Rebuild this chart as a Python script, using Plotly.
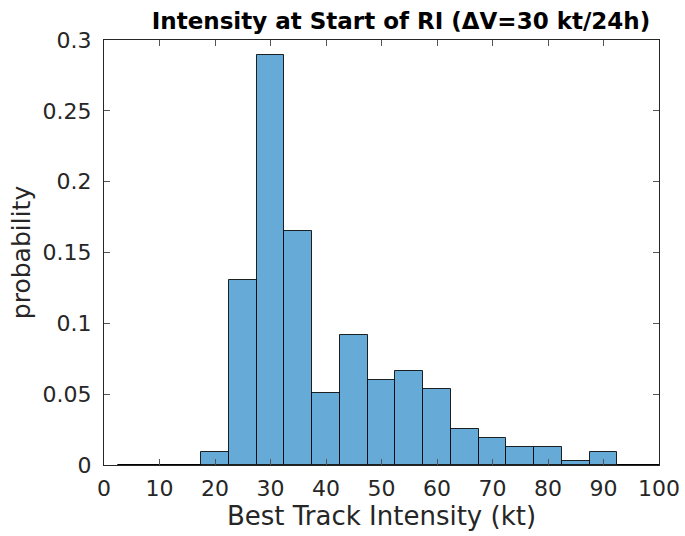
import plotly.graph_objects as go

# Histogram of best-track intensity at the start of rapid intensification
bin_centers = [5, 10, 15, 20, 25, 30, 35, 40, 45, 50, 55, 60, 65, 70, 75, 80, 85, 90, 95, 100]
probability = [0.0, 0.0, 0.0, 0.009, 0.1305, 0.2895, 0.1652, 0.0508, 0.0917, 0.060,
               0.0665, 0.0536, 0.0256, 0.019, 0.0127, 0.0127, 0.0028, 0.0092, 0.0, 0.0]
bin_width = 5

x_ticks = list(range(0, 101, 10))
y_ticks = [0, 0.05, 0.1, 0.15, 0.2, 0.25, 0.3]
y_tick_text = ["0", "0.05", "0.1", "0.15", "0.2", "0.25", "0.3"]

axis_color = "#262626"
font_family = "DejaVu Sans"

fig = go.Figure()
fig.add_trace(go.Bar(
    x=bin_centers,
    y=probability,
    width=bin_width,
    marker=dict(color="rgb(102,170,215)",
                line=dict(color="rgba(0,0,0,0.85)", width=1)),
    showlegend=False,
    cliponaxis=True,
))

# empty bins still show their bottom edge along the baseline
empty_x = []
empty_y = []
for c, p in zip(bin_centers, probability):
    if p == 0:
        empty_x += [c - bin_width / 2, c + bin_width / 2, None]
        empty_y += [p, p, None]
fig.add_trace(go.Scatter(x=empty_x, y=empty_y, mode="lines",
                         line=dict(color="black", width=1.5),
                         showlegend=False, hoverinfo="skip"))

fig.update_layout(
    width=685, height=536,
    margin=dict(l=103.5, r=26, t=39.5, b=71, autoexpand=False),
    paper_bgcolor="white", plot_bgcolor="white",
    font=dict(family=font_family, size=22, color=axis_color),
    title=dict(text="<b>Intensity at Start of RI (ΔV=30 kt/24h)</b>",
               x=401 / 685, xanchor="center", xref="container",
               y=1 - 21 / 536, yref="container", yanchor="middle",
               font=dict(family=font_family, size=23, color="black")),
    bargap=0,
)
fig.update_xaxes(
    range=[0, 100], tickvals=x_ticks, ticks="inside", ticklen=6,
    tickcolor="#555555", showline=True, linecolor=axis_color, linewidth=1,
    mirror="ticks", showgrid=False, zeroline=False,
    ticklabelstandoff=4,
    title=dict(text="Best Track Intensity (kt)", standoff=6,
               font=dict(size=26)),
    tickfont=dict(size=22),
)
fig.update_yaxes(
    range=[0, 0.3], tickvals=y_ticks, ticktext=y_tick_text,
    ticks="inside", ticklen=6, tickcolor="#555555",
    showline=True, linecolor=axis_color, linewidth=1,
    mirror="ticks", showgrid=False, zeroline=False,
    ticklabelstandoff=7,
    title=dict(text="probability", standoff=4, font=dict(size=25)),
    tickfont=dict(size=22),
)

fig.write_html("out.html")
